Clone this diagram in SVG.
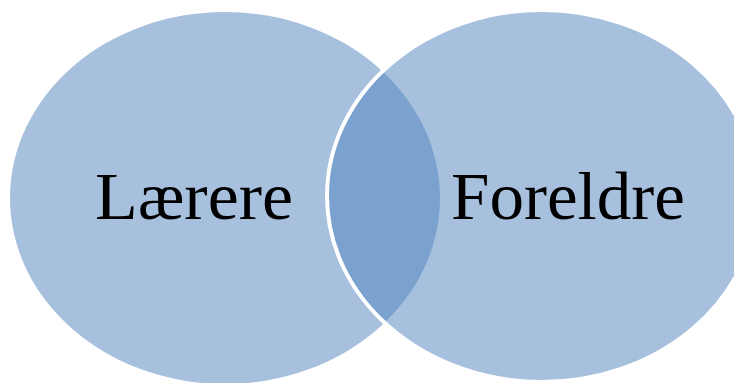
<svg xmlns="http://www.w3.org/2000/svg" width="734" height="383" viewBox="0 0 734 383">
<style>
.c{fill:#4F81BD;fill-opacity:0.5}
.t{font-family:"Liberation Serif","Times New Roman",serif;font-size:68px;fill:#000}
</style>
<rect width="734" height="383" fill="#fff"/>
<g id="node-laerere">
<ellipse class="c" cx="225" cy="198" rx="215" ry="186"/>
</g>
<g id="node-foreldre">
<ellipse class="c" cx="542" cy="196" rx="215" ry="186" stroke="#fff" stroke-width="4"/>
</g>
<g id="labels">
<text class="t" x="95" y="219" textLength="198" lengthAdjust="spacingAndGlyphs">Lærere</text>
<text class="t" x="451" y="219" textLength="234" lengthAdjust="spacingAndGlyphs">Foreldre</text>
</g>
</svg>
